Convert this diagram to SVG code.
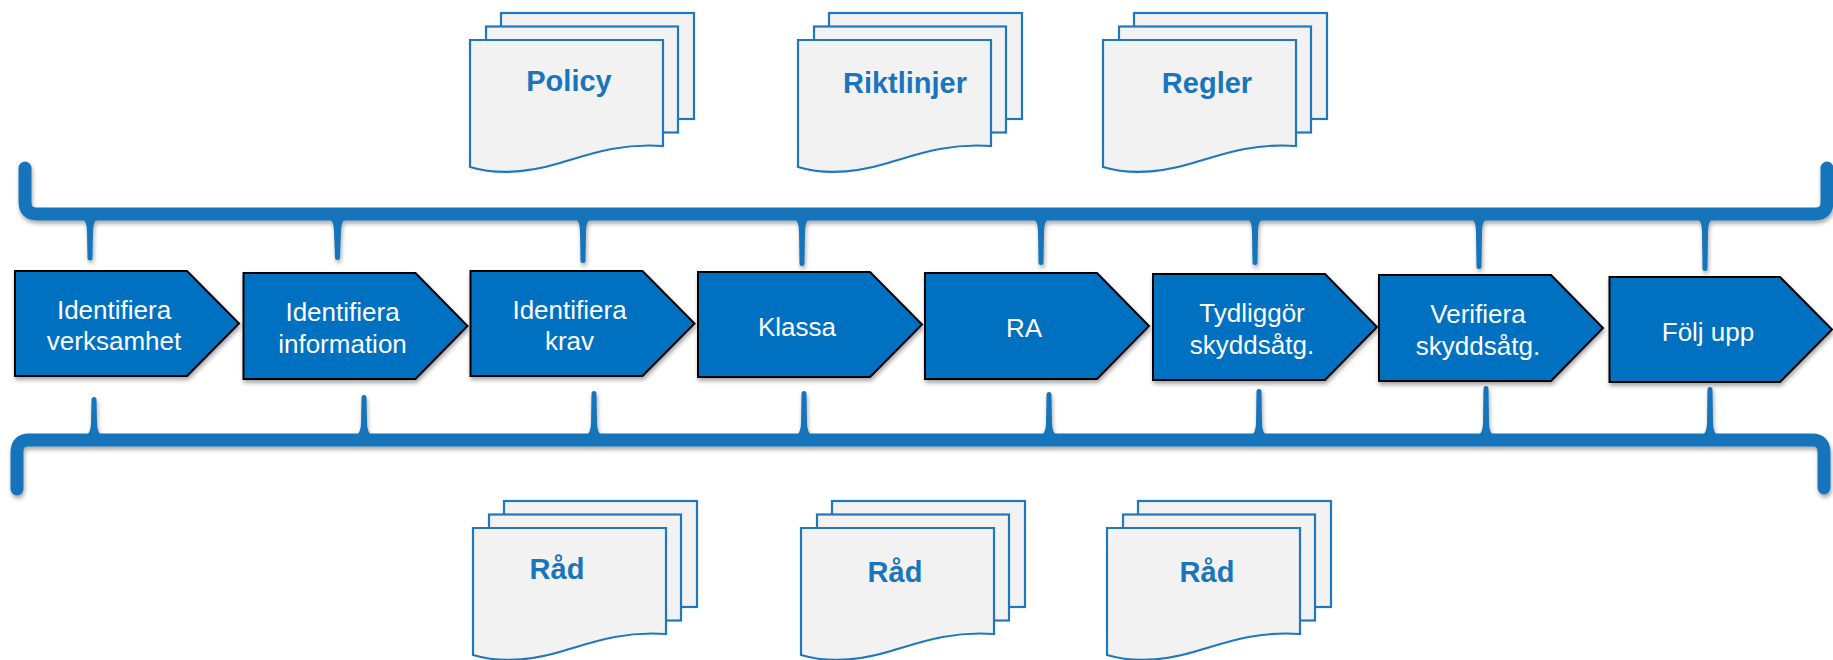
<svg xmlns="http://www.w3.org/2000/svg" xmlns:xlink="http://www.w3.org/1999/xlink" width="1833" height="660" viewBox="0 0 1833 660">
<style>
.bar{fill:none;stroke:#1874BA;stroke-width:13;stroke-linecap:round;stroke-linejoin:round}
.tick{fill:#1874BA}
.box{fill:#0070C0;stroke:#000;stroke-width:2;stroke-linejoin:miter}
.bt{font-family:"Liberation Sans",Arial,sans-serif;font-size:26px;fill:#fff;text-anchor:middle}
.sheet{fill:#F2F2F2;stroke:#1F78BE;stroke-width:2.2}
.dt{font-family:"Liberation Sans",Arial,sans-serif;font-size:29px;font-weight:bold;fill:#1B75BC;text-anchor:middle}
</style>
<defs>
<filter id="sh" x="-5%" y="-20%" width="110%" height="150%">
<feDropShadow dx="1" dy="3" stdDeviation="2" flood-color="#000" flood-opacity="0.35"/>
</filter>
<g id="stack">
<rect class="sheet" x="31" y="-27" width="193" height="106"/>
<rect class="sheet" x="16" y="-13.5" width="192" height="106"/>
<path class="sheet" d="M0,0 H193 V106 C150,103 120,114 90,123 S30,136 0,127 Z"/>
</g>
</defs>
<rect width="1833" height="660" fill="#fff"/>

<g id="connectors" filter="url(#sh)">
<path class="bar" d="M25,168 V202 Q25,214 37,214 H1815 Q1827,214 1827,202 V168"/>
<path class="bar" d="M17,489 V452 Q17,440 29,440 H1812 Q1824,440 1824,452 V488"/>
<path class="tick" d="M83,219 Q87,222 87,232 L87.5,258 A2.5,2.5 0 0 0 92.5,258 L93,232 Q93,222 97,219 Z"/>
<path class="tick" d="M330,219 Q334,222 334,232 L335,257.5 A2.5,2.5 0 0 0 340,257.5 L341,232 Q341,222 345,219 Z"/>
<path class="tick" d="M576,219 Q580,222 580,232 L580.5,260.5 A2.5,2.5 0 0 0 585.5,260.5 L586,232 Q586,222 590,219 Z"/>
<path class="tick" d="M795,219 Q799,222 799,232 L799.5,263.5 A2.5,2.5 0 0 0 804.5,263.5 L805,232 Q805,222 809,219 Z"/>
<path class="tick" d="M1034,219 Q1038,222 1038,232 L1038.5,262.5 A2.5,2.5 0 0 0 1043.5,262.5 L1044,232 Q1044,222 1048,219 Z"/>
<path class="tick" d="M1248,219 Q1252,222 1252,232 L1252.5,262.5 A2.5,2.5 0 0 0 1257.5,262.5 L1258,232 Q1258,222 1262,219 Z"/>
<path class="tick" d="M1472,219 Q1476,222 1476,232 L1476.5,266.5 A2.5,2.5 0 0 0 1481.5,266.5 L1482,232 Q1482,222 1486,219 Z"/>
<path class="tick" d="M1698,219 Q1702,222 1702,232 L1702.5,268.5 A2.5,2.5 0 0 0 1707.5,268.5 L1708,232 Q1708,222 1712,219 Z"/>
<path class="tick" d="M91.5,399.5 A2.5,2.5 0 0 1 96.5,399.5 L97,423 Q97,432 102,436 L86,436 Q91,432 91,423 Z"/>
<path class="tick" d="M361.5,397.5 A2.5,2.5 0 0 1 366.5,397.5 L367,423 Q367,432 372,436 L356,436 Q361,432 361,423 Z"/>
<path class="tick" d="M591.5,393.5 A2.5,2.5 0 0 1 596.5,393.5 L597,423 Q597,432 602,436 L586,436 Q591,432 591,423 Z"/>
<path class="tick" d="M801.5,393.5 A2.5,2.5 0 0 1 806.5,393.5 L807,423 Q807,432 812,436 L796,436 Q801,432 801,423 Z"/>
<path class="tick" d="M1046.5,394.5 A2.5,2.5 0 0 1 1051.5,394.5 L1052,423 Q1052,432 1057,436 L1041,436 Q1046,432 1046,423 Z"/>
<path class="tick" d="M1256.5,391.5 A2.5,2.5 0 0 1 1261.5,391.5 L1262,423 Q1262,432 1267,436 L1251,436 Q1256,432 1256,423 Z"/>
<path class="tick" d="M1483.5,388.5 A2.5,2.5 0 0 1 1488.5,388.5 L1489,423 Q1489,432 1494,436 L1478,436 Q1483,432 1483,423 Z"/>
<path class="tick" d="M1707.5,389.5 A2.5,2.5 0 0 1 1712.5,389.5 L1713,423 Q1713,432 1718,436 L1702,436 Q1707,432 1707,423 Z"/>
</g>

<g id="doc-policy"><use xlink:href="#stack" href="#stack" x="470" y="40"/><text class="dt" x="569" y="91">Policy</text></g>
<g id="doc-riktlinjer"><use xlink:href="#stack" href="#stack" x="798" y="40"/><text class="dt" x="905" y="93">Riktlinjer</text></g>
<g id="doc-regler"><use xlink:href="#stack" href="#stack" x="1103" y="40"/><text class="dt" x="1207" y="93">Regler</text></g>
<g id="doc-rad1"><use xlink:href="#stack" href="#stack" x="473" y="528"/><text class="dt" x="557" y="579">Råd</text></g>
<g id="doc-rad2"><use xlink:href="#stack" href="#stack" x="801" y="528"/><text class="dt" x="895" y="582">Råd</text></g>
<g id="doc-rad3"><use xlink:href="#stack" href="#stack" x="1107" y="528"/><text class="dt" x="1207" y="582">Råd</text></g>

<g id="step1"><path class="box" filter="url(#sh)" d="M15,271 H187 L239,323.5 L187,376 H15 Z"/><text class="bt" x="114" y="318.5">Identifiera</text><text class="bt" x="114" y="350">verksamhet</text></g>
<g id="step2"><path class="box" filter="url(#sh)" d="M243.5,273 H415.5 L467.5,326 L415.5,379 H243.5 Z"/><text class="bt" x="342.5" y="321">Identifiera</text><text class="bt" x="342.5" y="352.5">information</text></g>
<g id="step3"><path class="box" filter="url(#sh)" d="M470.5,271 H642.5 L694.5,323.5 L642.5,376 H470.5 Z"/><text class="bt" x="569.5" y="318.5">Identifiera</text><text class="bt" x="569.5" y="350">krav</text></g>
<g id="step4"><path class="box" filter="url(#sh)" d="M698,272 H870 L922,324.5 L870,377 H698 Z"/><text class="bt" x="797" y="335.5">Klassa</text></g>
<g id="step5"><path class="box" filter="url(#sh)" d="M925,273 H1097 L1149,326 L1097,379 H925 Z"/><text class="bt" x="1024" y="337">RA</text></g>
<g id="step6"><path class="box" filter="url(#sh)" d="M1153,274 H1325 L1377,327 L1325,380 H1153 Z"/><text class="bt" x="1252" y="322">Tydliggör</text><text class="bt" x="1252" y="353.5">skyddsåtg.</text></g>
<g id="step7"><path class="box" filter="url(#sh)" d="M1379,275 H1551 L1603,328 L1551,381 H1379 Z"/><text class="bt" x="1478" y="323">Verifiera</text><text class="bt" x="1478" y="354.5">skyddsåtg.</text></g>
<g id="step8"><path class="box" filter="url(#sh)" d="M1609.5,277 H1780 L1832,329.5 L1780,382 H1609.5 Z"/><text class="bt" x="1708" y="340.5">Följ upp</text></g>
</svg>
